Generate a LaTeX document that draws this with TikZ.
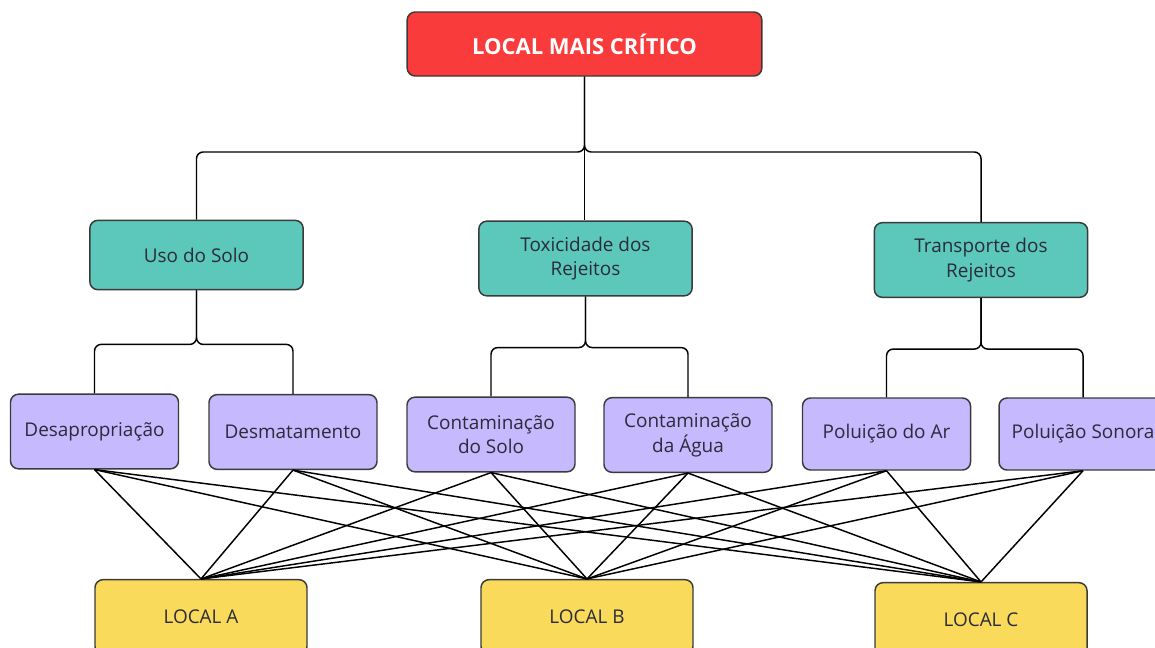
\documentclass[tikz,border=0pt]{standalone}
\usepackage{fontspec}
\setmainfont{Open Sans}
\definecolor{topred}{HTML}{F93B3B}
\definecolor{teal}{HTML}{5BC8BB}
\definecolor{lilac}{HTML}{C6B9FD}
\definecolor{gold}{HTML}{F9DA5B}
\definecolor{edge}{HTML}{3A3A3A}
\definecolor{ink}{HTML}{2B2B3A}
\begin{document}
\begin{tikzpicture}[x=0.75pt,y=-0.75pt,
  box/.style={draw=edge,line width=1.1pt,rounded corners=6pt,align=center,
    text=ink,font=\fontsize{14.2}{18.5}\selectfont,inner sep=0pt},
  rootbox/.style={box,fill=topred,text=white,font=\fontsize{16.5}{20}\selectfont\bfseries,
    minimum width=266pt,minimum height=48pt},
  critbox/.style={box,fill=teal,minimum width=160pt,minimum height=52pt},
  factbox/.style={box,fill=lilac,minimum width=126pt,minimum height=56pt},
  sitebox/.style={box,fill=gold,minimum width=159pt,minimum height=56pt},
  tree/.style={draw=black,line width=1.1pt,rounded corners=5pt},
  link/.style={draw=black,line width=1.1pt}]
\useasboundingbox (0,0) rectangle (1155,647);
\begin{scope}
\clip (0,0) rectangle (1155,647);
% root
\node[rootbox] (root) at (584.5,44) {LOCAL MAIS CRÍTICO};
% criteria
\node[critbox] (uso) at (196.5,255) {Uso do Solo};
\node[critbox,minimum height=56pt] (tox) at (585.5,258.5) {Toxicidade dos\\Rejeitos};
\node[critbox,minimum height=56pt] (tra) at (981,260) {Transporte dos\\Rejeitos};
% factors
\node[factbox] (des) at (94.5,431.5) {Desapropriação};
\node[factbox] (dma) at (293,432) {Desmatamento};
\node[factbox] (cso) at (491,434.5) {Contaminação\\do Solo};
\node[factbox] (cag) at (688,435) {Contaminação\\da Água};
\node[factbox,minimum height=54pt] (par) at (886.5,434) {Poluição do Ar};
\node[factbox,minimum height=54pt] (son) at (1083,434) {Poluição Sonora};
% sites
\node[sitebox] (la) at (201,617) {LOCAL A};
\node[sitebox] (lb) at (587,617) {LOCAL B};
\node[sitebox] (lc) at (981,620) {LOCAL C};
% root to criteria
\coordinate (hub) at (root.south |- 0,152);
\draw[tree] (root.south) -- (hub) -| (uso.north);
\draw[tree] (root.south) -- (hub) -| (tra.north);
\draw[link] (root.south) -- (root.south |- tox.north);
% criteria to factors
\draw[tree] (uso.south) -- ++(0,54) -| (des.north);
\draw[tree] (uso.south) -- ++(0,54) -| (dma.north);
\draw[tree] (tox.south) -- ++(0,51) -| (cso.north);
\draw[tree] (tox.south) -- ++(0,51) -| (cag.north);
\draw[tree] (tra.south) -- ++(0,51) -| (par.north);
\draw[tree] (tra.south) -- ++(0,51) -| (son.north);
% every factor is linked to every site
\foreach \f in {des,dma,cso,cag,par,son}
  \foreach \s in {la,lb,lc}
    \draw[link] (\f.south) -- (\s.north);
\end{scope}
\end{tikzpicture}
\end{document}
